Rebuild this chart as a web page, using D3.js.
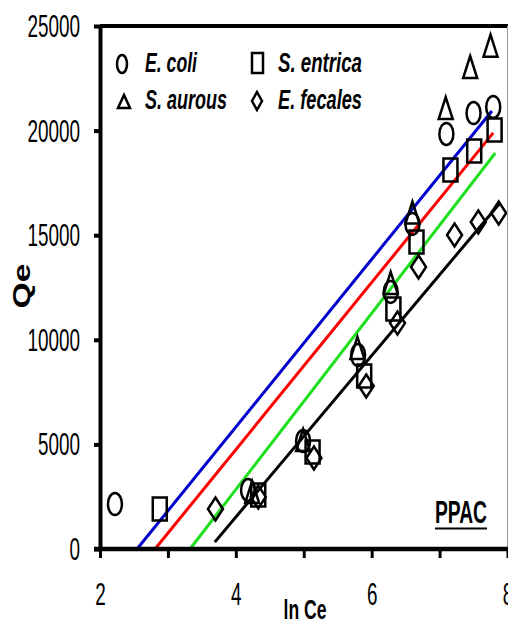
<!DOCTYPE html>
<html>
<head>
<meta charset="utf-8">
<script src="https://cdn.jsdelivr.net/npm/d3@7"></script>
<style>
    html, body { margin: 0; padding: 0; background: #fff; }
    svg { display: block; }
    text { font-family: "Liberation Sans Narrow", "Liberation Sans", Arial, sans-serif; fill: #000; }
</style>
</head>
<body>
<svg id="chart" width="508" height="623"></svg>
<script>
/*=============== DATA ============*/

var seriesNames = ['E. coli', 'S. entrica', 'S. aurous', 'E. fecales'];

var ecoliLnCe = [2.22, 4.18, 4.99, 5.80, 6.28, 6.60, 7.10, 7.50, 7.79];
var ecoliQe = [2150, 2820, 5160, 9270, 12290, 15540, 19840, 20840, 21130];

var entricaLnCe = [2.88, 4.33, 5.13, 5.89, 6.32, 6.66, 7.16, 7.51, 7.81];
var entricaQe = [1910, 2580, 4640, 8270, 11470, 14680, 18120, 19030, 20030];

var aurousLnCe = [4.24, 4.99, 5.79, 6.28, 6.60, 7.09, 7.45, 7.75];
var aurousQe = [2720, 5210, 9610, 12720, 16080, 21080, 23040, 24060];

var fecalesLnCe = [3.70, 4.33, 5.15, 5.92, 6.38, 6.69, 7.22, 7.57, 7.87];
var fecalesQe = [1910, 2490, 4350, 7790, 10800, 13480, 15010, 15630, 16060];

// fitted lines, start and end points
var aurousFitLnCe = [2.545, 7.77];
var aurousFitQe = [0, 20940];
var ecoliFitLnCe = [2.81, 7.79];
var ecoliFitQe = [0, 19890];
var entricaFitLnCe = [3.325, 7.82];
var entricaFitQe = [0, 18930];
var fecalesFitLnCe = [3.69, 7.89];
var fecalesFitQe = [330, 16540];

var xTicks = [2, 3, 4, 5, 6, 7, 8];
var xTickLabels = ['2', '', '4', '', '6', '', '8'];
var yTicks = [0, 5000, 10000, 15000, 20000, 25000];
var yTickLabels = ['0', '5000', '10000', '15000', '20000', '25000'];

/*=============== SETUP ============*/

var svg = d3.select('#chart');

var x = d3.scaleLinear().domain([2, 8]).range([100, 507.5]);
var y = d3.scaleLinear().domain([0, 25000]).range([549, 26]);

var zip = function (xs, ys) {
    return xs.map(function (v, i) { return [v, ys[i]]; });
};

// shapes are taller than wide, the whole picture looks stretched vertically
var shapePath = function (shape, w, h) {
    var hw = w / 2, hh = h / 2;
    if (shape === 'circle') {
        return 'M' + (-hw) + ',0 A' + hw + ',' + hh + ' 0 1,0 ' + hw + ',0 A' + hw + ',' + hh + ' 0 1,0 ' + (-hw) + ',0 Z';
    } else if (shape === 'square') {
        return 'M' + (-hw) + ',' + (-hh) + ' H' + hw + ' V' + hh + ' H' + (-hw) + ' Z';
    } else if (shape === 'triangle') {
        return 'M0,' + (-hh) + ' L' + hw + ',' + hh + ' L' + (-hw) + ',' + hh + ' Z';
    } else {
        return 'M0,' + (-hh) + ' L' + hw + ',0 L0,' + hh + ' L' + (-hw) + ',0 Z';
    }
};

/*=============== FIT LINES ============*/

var fits = [
    { pts: zip(fecalesFitLnCe, fecalesFitQe), color: '#000000' },
    { pts: zip(entricaFitLnCe, entricaFitQe), color: '#1ee01e' },
    { pts: zip(ecoliFitLnCe, ecoliFitQe), color: '#ff0000' },
    { pts: zip(aurousFitLnCe, aurousFitQe), color: '#0000cc' }
];

var line = d3.line()
    .x(function (d) { return x(d[0]); })
    .y(function (d) { return y(d[1]); });

svg.append('g').selectAll('path')
    .data(fits)
    .enter().append('path')
        .attr('d', function (d) { return line(d.pts); })
        .attr('fill', 'none')
        .attr('stroke', function (d) { return d.color; })
        .attr('stroke-width', 3);

/*=============== POINTS ============*/

var series = [
    { shape: 'circle', pts: zip(ecoliLnCe, ecoliQe), w: 14, h: 22 },
    { shape: 'square', pts: zip(entricaLnCe, entricaQe), w: 14, h: 23 },
    { shape: 'triangle', pts: zip(aurousLnCe, aurousQe), w: 14, h: 22 },
    { shape: 'diamond', pts: zip(fecalesLnCe, fecalesQe), w: 15, h: 23 }
];

series.forEach(function (s) {
    svg.append('g').selectAll('path')
        .data(s.pts)
        .enter().append('path')
            .attr('transform', function (d) { return 'translate(' + x(d[0]) + ',' + y(d[1]) + ')'; })
            .attr('d', shapePath(s.shape, s.w, s.h))
            .attr('fill', 'none')
            .attr('stroke', '#000')
            .attr('stroke-width', 2.5);
});

/*=============== AXES ============*/

// frame: thick top, thin grey right edge
svg.append('line')
    .attr('x1', 100).attr('x2', 508)
    .attr('y1', y(25000)).attr('y2', y(25000))
    .attr('stroke', '#000').attr('stroke-width', 4);

svg.append('line')
    .attr('x1', 507.5).attr('x2', 507.5)
    .attr('y1', y(25000)).attr('y2', y(0))
    .attr('stroke', '#999').attr('stroke-width', 1);

var yAxis = svg.append('g')
    .attr('transform', 'translate(100,0)')
    .call(d3.axisLeft(y).tickValues(yTicks).tickSize(6).tickSizeOuter(0).tickPadding(14)
        .tickFormat(function (d, i) { return yTickLabels[i]; }));

yAxis.select('.domain').attr('stroke-width', 4);
yAxis.selectAll('.tick line').attr('stroke-width', 4);
yAxis.selectAll('.tick text')
    .style('font-size', '31px')
    .attr('dy', '0.34em')
    .attr('textLength', function (d, i) { return yTickLabels[i].length * 10.5; })
    .attr('lengthAdjust', 'spacingAndGlyphs');

var xAxis = svg.append('g')
    .attr('transform', 'translate(0,' + y(0) + ')')
    .call(d3.axisBottom(x).tickValues(xTicks).tickSize(9).tickSizeOuter(0).tickPadding(25)
        .tickFormat(function (d, i) { return xTickLabels[i]; }));

xAxis.select('.domain').attr('stroke-width', 4.5).attr('d', 'M94,0H508');
xAxis.selectAll('.tick line').attr('stroke-width', 3);
xAxis.selectAll('.tick text')
    .style('font-size', '31px')
    .attr('textLength', function (d, i) { return xTickLabels[i] ? 10.5 : null; })
    .attr('lengthAdjust', 'spacingAndGlyphs');

// axis titles
svg.append('text')
    .attr('x', 305).attr('y', 619)
    .attr('text-anchor', 'middle')
    .attr('textLength', 43).attr('lengthAdjust', 'spacingAndGlyphs')
    .style('font-size', '28px').style('font-weight', 'bold')
    .text('ln Ce');

svg.append('text')
    .attr('transform', 'translate(30,286) rotate(-90)')
    .attr('text-anchor', 'middle')
    .attr('textLength', 45).attr('lengthAdjust', 'spacingAndGlyphs')
    .style('font-size', '23px').style('font-weight', 'bold')
    .text('Qe');

/*=============== LEGEND ============*/

var legendItems = [
    { name: seriesNames[0], shape: 'circle', mx: 122, my: 64, w: 10, h: 18, tx: 145, ty: 72, len: 52 },
    { name: seriesNames[1], shape: 'square', mx: 257.5, my: 63, w: 11, h: 20, tx: 278, ty: 72, len: 84 },
    { name: seriesNames[2], shape: 'triangle', mx: 124, my: 101.5, w: 12, h: 13, tx: 145, ty: 109, len: 82 },
    { name: seriesNames[3], shape: 'diamond', mx: 257, my: 101, w: 10, h: 18, tx: 278, ty: 109, len: 84 }
];

var legend = svg.append('g').selectAll('g')
    .data(legendItems)
    .enter().append('g');

legend.append('path')
    .attr('transform', function (d) { return 'translate(' + d.mx + ',' + d.my + ')'; })
    .attr('d', function (d) { return shapePath(d.shape, d.w, d.h); })
    .attr('fill', 'none')
    .attr('stroke', '#000')
    .attr('stroke-width', 2.5);

legend.append('text')
    .attr('x', function (d) { return d.tx; })
    .attr('y', function (d) { return d.ty; })
    .attr('textLength', function (d) { return d.len; })
    .attr('lengthAdjust', 'spacingAndGlyphs')
    .style('font-size', '27px')
    .style('font-weight', 'bold')
    .style('font-style', 'italic')
    .text(function (d) { return d.name; });

/*=============== PPAC TAG ============*/

svg.append('text')
    .attr('x', 435).attr('y', 523)
    .attr('textLength', 52).attr('lengthAdjust', 'spacingAndGlyphs')
    .style('font-size', '31px').style('font-weight', 'bold')
    .text('PPAC');

svg.append('line')
    .attr('x1', 435).attr('x2', 487)
    .attr('y1', 528.5).attr('y2', 528.5)
    .attr('stroke', '#000').attr('stroke-width', 2);
</script>
</body>
</html>
